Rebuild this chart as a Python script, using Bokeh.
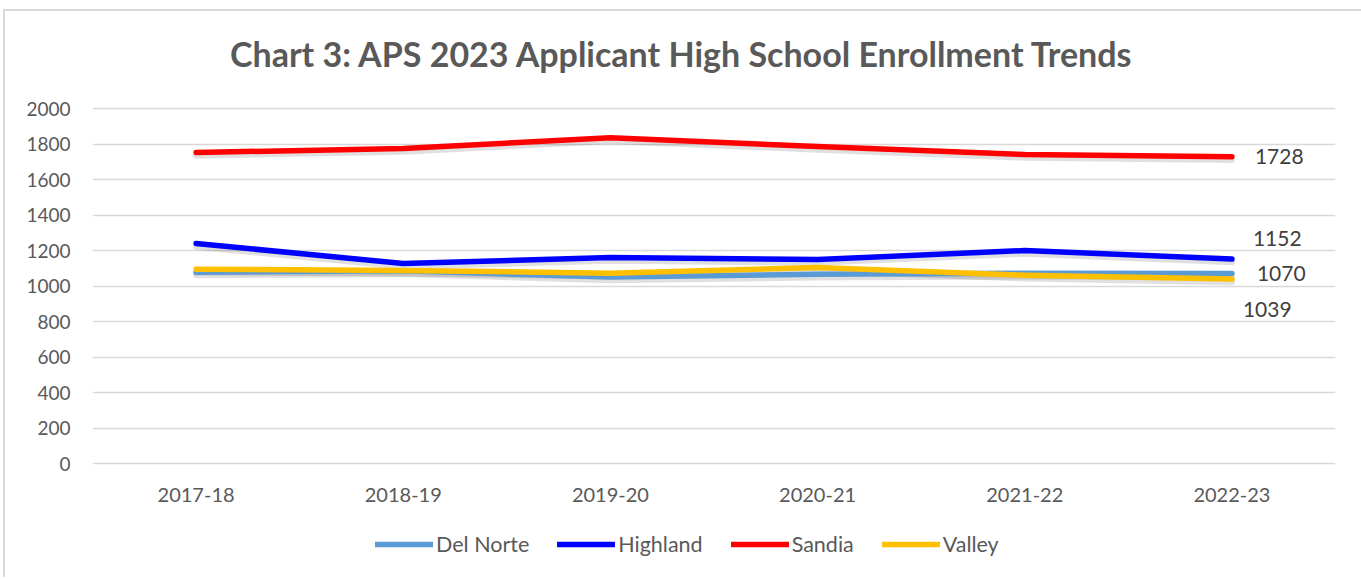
from bokeh.plotting import figure
from bokeh.models import ColumnDataSource, Legend, LegendItem, FixedTicker, Range1d, FactorRange
from bokeh.embed import file_html
from bokeh.resources import INLINE
from bokeh.core.properties import value

years = ["2017-18", "2018-19", "2019-20", "2020-21", "2021-22", "2022-23"]
del_norte = [1078, 1086, 1050, 1066, 1072, 1070]
highland = [1239, 1127, 1160, 1149, 1200, 1152]
sandia = [1752, 1775, 1835, 1786, 1741, 1728]
valley = [1094, 1088, 1072, 1104, 1060, 1039]

series_names = ["Del Norte", "Highland", "Sandia", "Valley"]
series_values = [del_norte, highland, sandia, valley]
colors = ["#5b9bd5", "#0000ff", "#ff0000", "#ffc000"]
y_ticks = list(range(0, 2001, 200))
title_text = "Chart 3: APS 2023 Applicant High School Enrollment Trends"

FONT = "Lato"
TXT = "#595959"

# layout: plot band of 355 px for 0..2000, with room above for the title and below for labels/legend
FRAME_H = 566
BAND_H = 355
ABOVE = 97
px_per_unit = BAND_H / (y_ticks[-1] - y_ticks[0])
y_top = y_ticks[-1] + ABOVE / px_per_unit
y_bottom = y_ticks[0] - (FRAME_H - ABOVE - BAND_H) / px_per_unit

p = figure(frame_width=1243, frame_height=FRAME_H, x_range=FactorRange(*years),
           y_range=Range1d(y_bottom, y_top),
           output_backend="svg", toolbar_location=None,
           min_border_left=87, min_border_right=26, min_border_top=0, min_border_bottom=0)
p.margin = (9, 0, 0, 3)
p.styles = {"border-left": "2px solid #d9d9d9", "border-top": "2px solid #d9d9d9"}
p.outline_line_color = None
p.border_fill_color = "white"
p.xaxis.visible = False

# title (inside the drawing area, near its top)
p.text(x=[years[2]], y=[y_top], text=[title_text], x_offset=72, y_offset=42,
       text_font=value(FONT), text_font_style="bold", text_font_size="34px", text_color=TXT,
       text_align="center", text_baseline="middle")

# category labels under the zero line
p.text(x=years, y=[y_ticks[0]] * len(years), text=years, y_offset=31,
       text_font=value(FONT), text_font_size="20px", text_color=TXT,
       text_align="center", text_baseline="middle")

# soft shadows under the lines
for vals in series_values:
    p.line(x=years, y=[v - 18 for v in vals], line_width=6, line_color="black", line_alpha=0.12,
           line_join="round", line_cap="round")

renderers = []
for name, vals, c in zip(series_names, series_values, colors):
    r = p.line(x=years, y=vals, line_width=5.5, line_color=c, line_join="round", line_cap="round")
    renderers.append(r)

# data labels on last point
last_vals = [sandia[-1], highland[-1], del_norte[-1], valley[-1]]
lab_dx = [23, 21, 25, 11]
lab_dy = [0, -21, 0, 30]
lab_src = ColumnDataSource(dict(x=[years[-1]] * 4, y=last_vals, t=[str(v) for v in last_vals],
                                dx=lab_dx, dy=lab_dy))
p.text(x="x", y="y", text="t", source=lab_src, x_offset="dx", y_offset="dy",
       text_font=value(FONT), text_font_size="21px", text_color="#404040",
       text_baseline="middle", text_align="left")

p.yaxis.ticker = FixedTicker(ticks=y_ticks)
p.yaxis.axis_line_color = None
p.yaxis.major_tick_line_color = None
p.yaxis.minor_tick_line_color = None
p.yaxis.major_label_text_font = FONT
p.yaxis.major_label_text_font_size = "19px"
p.yaxis.major_label_text_color = TXT
p.yaxis.major_label_standoff = 16

p.xgrid.grid_line_color = None
p.ygrid.ticker = FixedTicker(ticks=y_ticks)
p.ygrid.grid_line_color = "#d9d9d9"
p.ygrid.grid_line_width = 1.5

legend = Legend(items=[LegendItem(label=n, renderers=[r]) for n, r in zip(series_names, renderers)],
                orientation="horizontal", location=(283, 20),
                label_text_font=FONT, label_text_font_size="21.5px", label_text_color=TXT,
                glyph_width=58, glyph_height=22, label_height=22, spacing=28, label_standoff=3,
                border_line_color=None, background_fill_alpha=0, margin=0, padding=0)
p.add_layout(legend, "center")

open("out.html", "w").write(file_html(p, INLINE))
